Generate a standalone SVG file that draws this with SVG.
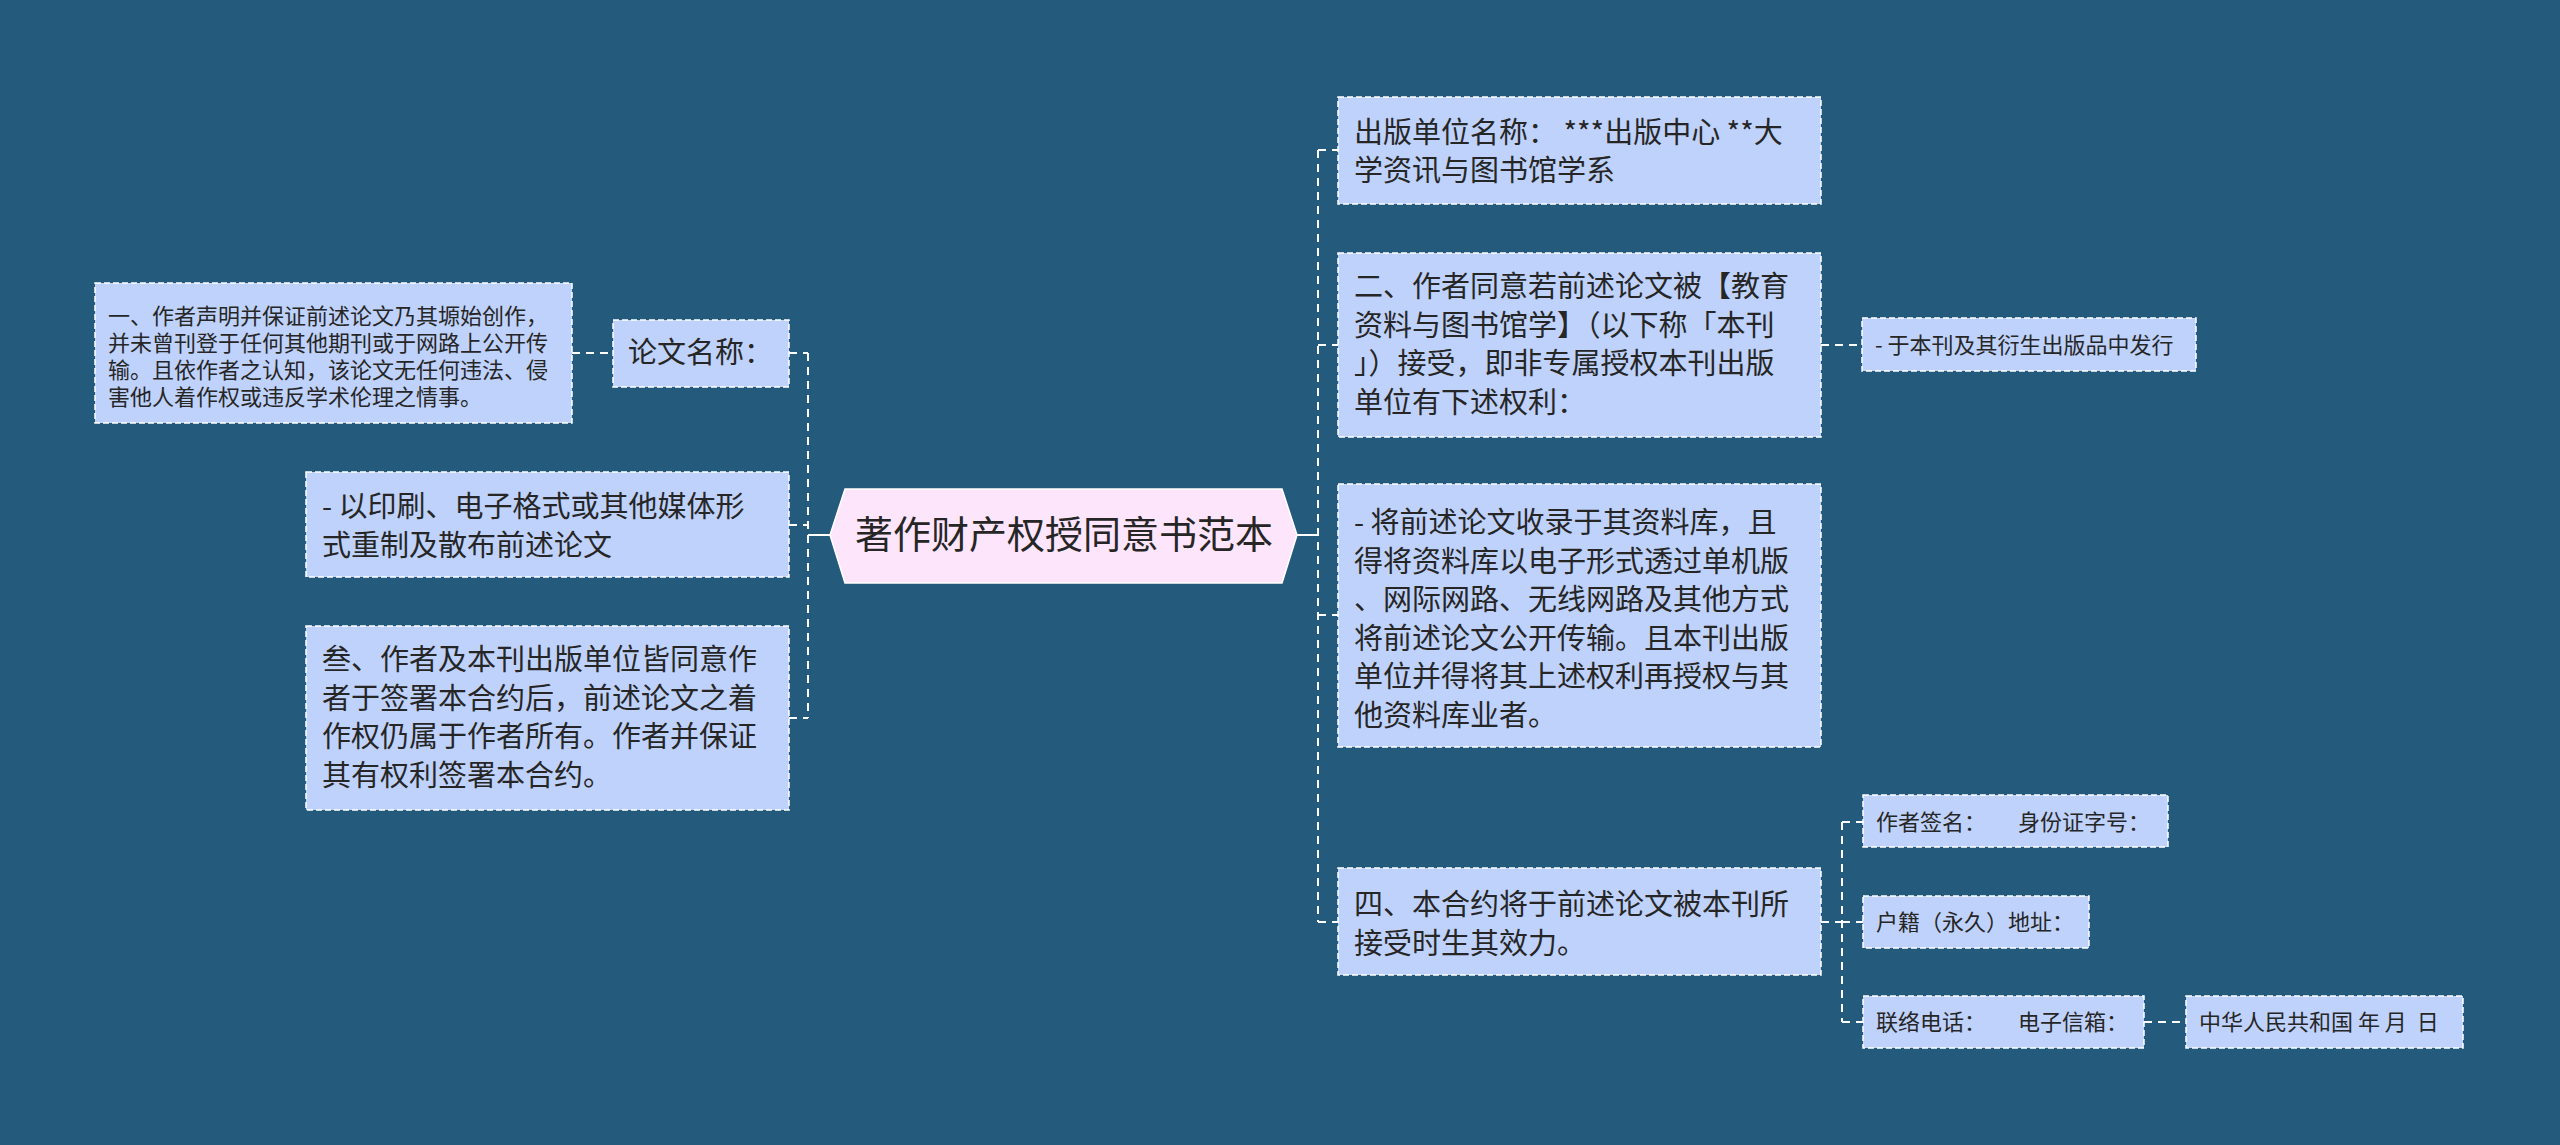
<svg xmlns="http://www.w3.org/2000/svg" width="2560" height="1145" viewBox="0 0 2560 1145">
<style>
.bg{fill:#245a7c}
.box{fill:#bfd2fb;stroke:#ffffff;stroke-width:1.5;stroke-dasharray:6 3}
.hex{fill:#fde5fb;stroke:#ffffff;stroke-width:1.5}
.t{font-family:"Noto Sans CJK SC","Noto Sans",sans-serif;fill:#262626}
.l{font-size:29px}
.s{font-size:22px}
.c{font-size:38px}
.dash{fill:none;stroke:#ffffff;stroke-width:2;stroke-dasharray:8 6}
.solid{fill:none;stroke:#ffffff;stroke-width:2}
</style>
<rect class="bg" x="0" y="0" width="2560" height="1145"/>
<g id="connectors">
  <line class="solid" x1="830" y1="535" x2="808" y2="535"/>
  <path class="dash" d="M808,353 V718"/>
  <path class="dash" d="M789,353 H808"/>
  <path class="dash" d="M789,525 H808"/>
  <path class="dash" d="M789,718 H808"/>
  <path class="dash" d="M572,353 H613"/>
  <line class="solid" x1="1297" y1="535" x2="1318" y2="535"/>
  <path class="dash" d="M1318,150 V922"/>
  <path class="dash" d="M1318,150 H1338"/>
  <path class="dash" d="M1318,345 H1338"/>
  <path class="dash" d="M1318,615 H1338"/>
  <path class="dash" d="M1318,922 H1338"/>
  <path class="dash" d="M1821,345 H1862"/>
  <path class="dash" d="M1821,922 H1842"/>
  <path class="dash" d="M1842,822 V1022"/>
  <path class="dash" d="M1842,822 H1863"/>
  <path class="dash" d="M1842,922 H1863"/>
  <path class="dash" d="M1842,1022 H1863"/>
  <path class="dash" d="M2144,1022 H2186"/>
</g>
<g id="center">
  <polygon class="hex" points="830,535 845,489 1282,489 1297,535 1282,583 845,583"/>
  <text class="t c" x="1064" y="548" text-anchor="middle">著作财产权授同意书范本</text>
</g>
<g id="n-lunwen">
  <rect class="box" x="613" y="320" width="176" height="67"/>
  <text class="t l" x="628" y="363">论文名称：</text>
</g>
<g id="n-yi">
  <rect class="box" x="95" y="283" width="477" height="140"/>
  <text class="t s">
    <tspan x="108" y="324">一、作者声明并保证前述论文乃其塬始创作，</tspan>
    <tspan x="108" y="351">并未曾刊登于任何其他期刊或于网路上公开传</tspan>
    <tspan x="108" y="378">输。且依作者之认知，该论文无任何违法、侵</tspan>
    <tspan x="108" y="405">害他人着作权或违反学术伦理之情事。</tspan>
  </text>
</g>
<g id="n-yinshua">
  <rect class="box" x="306" y="472" width="483" height="105"/>
  <text class="t l">
    <tspan x="322" y="517">- 以印刷、电子格式或其他媒体形</tspan>
    <tspan x="322" y="555.5">式重制及散布前述论文</tspan>
  </text>
</g>
<g id="n-san">
  <rect class="box" x="306" y="626" width="483" height="184"/>
  <text class="t l">
    <tspan x="322" y="670">叁、作者及本刊出版单位皆同意作</tspan>
    <tspan x="322" y="708.5">者于签署本合约后，前述论文之着</tspan>
    <tspan x="322" y="747">作权仍属于作者所有。作者并保证</tspan>
    <tspan x="322" y="785.5">其有权利签署本合约。</tspan>
  </text>
</g>
<g id="n-chuban">
  <rect class="box" x="1338" y="97" width="483" height="107"/>
  <text class="t l">
    <tspan x="1354" y="143">出版单位名称：  ***出版中心 **大</tspan>
    <tspan x="1354" y="181">学资讯与图书馆学系</tspan>
  </text>
</g>
<g id="n-er">
  <rect class="box" x="1338" y="253" width="483" height="184"/>
  <text class="t l">
    <tspan x="1354" y="297">二、作者同意若前述论文被【教育</tspan>
    <tspan x="1354" y="335.5">资料与图书馆学】（以下称「本刊</tspan>
    <tspan x="1354" y="374">」）接受，即非专属授权本刊出版</tspan>
    <tspan x="1354" y="412.5">单位有下述权利：</tspan>
  </text>
</g>
<g id="n-faxing">
  <rect class="box" x="1862" y="318" width="334" height="53"/>
  <text class="t s" x="1875" y="353">- 于本刊及其衍生出版品中发行</text>
</g>
<g id="n-shoulu">
  <rect class="box" x="1338" y="484" width="483" height="263"/>
  <text class="t l">
    <tspan x="1354" y="533">- 将前述论文收录于其资料库，且</tspan>
    <tspan x="1354" y="571.5">得将资料库以电子形式透过单机版</tspan>
    <tspan x="1354" y="610">、网际网路、无线网路及其他方式</tspan>
    <tspan x="1354" y="648.5">将前述论文公开传输。且本刊出版</tspan>
    <tspan x="1354" y="687">单位并得将其上述权利再授权与其</tspan>
    <tspan x="1354" y="725.5">他资料库业者。</tspan>
  </text>
</g>
<g id="n-si">
  <rect class="box" x="1338" y="868" width="483" height="107"/>
  <text class="t l">
    <tspan x="1354" y="915">四、本合约将于前述论文被本刊所</tspan>
    <tspan x="1354" y="953.5">接受时生其效力。</tspan>
  </text>
</g>
<g id="n-qianming">
  <rect class="box" x="1863" y="795" width="305" height="52"/>
  <text class="t s"><tspan x="1876" y="830">作者签名：</tspan><tspan x="2018" y="830">身份证字号：</tspan></text>
</g>
<g id="n-huji">
  <rect class="box" x="1863" y="896" width="226" height="52"/>
  <text class="t s" x="1876" y="930">户籍（永久）地址：</text>
</g>
<g id="n-lianluo">
  <rect class="box" x="1863" y="996" width="281" height="52"/>
  <text class="t s"><tspan x="1876" y="1030">联络电话：</tspan><tspan x="2018" y="1030">电子信箱：</tspan></text>
</g>
<g id="n-riqi">
  <rect class="box" x="2186" y="996" width="277" height="52"/>
  <text class="t s" x="2199" y="1030" xml:space="preserve">中华人民共和国 年 月  日</text>
</g>
</svg>
